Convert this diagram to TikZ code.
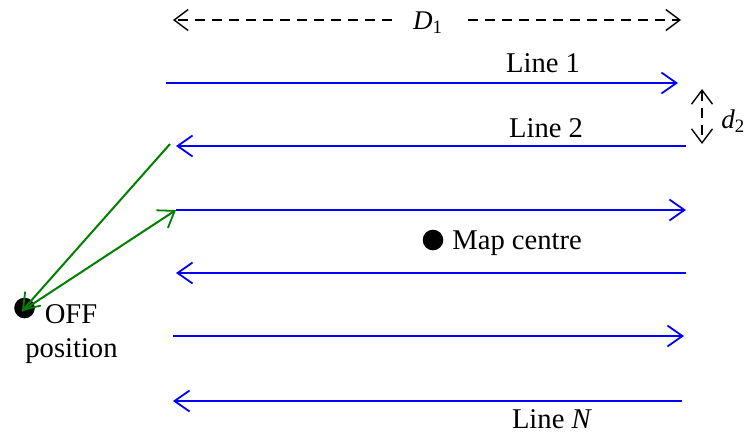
\documentclass[tikz,border=0pt]{standalone}
\usepackage{fontspec}
\setmainfont{Liberation Serif}
\usetikzlibrary{arrows.meta}
\begin{document}
\begin{tikzpicture}[x=0.5pt,y=-0.5pt,
  font=\fontsize{14.3}{16}\selectfont,
  tip/.tip={Straight Barb[length=7.5pt,width=10.5pt,line width=0.9pt]},
  dtip/.tip={Straight Barb[length=7pt,width=10.5pt,line width=0.7pt]},
  track/.style={draw={rgb,255:red,0;green,0;blue,255},line width=1pt,-tip},
  transit/.style={draw={rgb,255:red,0;green,128;blue,0},line width=1pt,-tip},
  measure/.style={draw=black,line width=0.7pt,dash pattern=on 5pt off 3.5pt},
  lbl/.style={inner sep=0pt},
  sym/.style={inner sep=0pt,font=\fontsize{13.5}{15}\selectfont},
  spot/.style={circle,fill=black,inner sep=0pt,minimum size=10.3pt}]
\useasboundingbox (0,0) rectangle (744,436);

% swath width D1
\coordinate (dl) at (173,20);
\coordinate (dr) at (681,20);
\coordinate (dgl) at (392,20);
\coordinate (dgr) at (468,20);
\draw[measure,-dtip] (dgl) -- (dl);
\draw[measure,-dtip] (dgr) -- (dr);
\node[sym,anchor=base] (dtext) at (428,29) {\textit{D}\textsubscript{1}};

% survey lines
\coordinate (l1a) at (166,83);  \coordinate (l1b) at (678,83);
\coordinate (l2a) at (686,146); \coordinate (l2b) at (176,146);
\coordinate (l3a) at (176,210); \coordinate (l3b) at (686,210);
\coordinate (l4a) at (686,273); \coordinate (l4b) at (176,273);
\coordinate (l5a) at (173,336); \coordinate (l5b) at (684,336);
\coordinate (l6a) at (682,401); \coordinate (l6b) at (173,401);
\draw[track] (l1a) -- (l1b);
\draw[track] (l2a) -- (l2b);
\draw[track] (l3a) -- (l3b);
\draw[track] (l4a) -- (l4b);
\draw[track] (l5a) -- (l5b);
\draw[track] (l6a) -- (l6b);
\node[lbl,anchor=base] (t1) at (543,72) {Line 1};
\node[lbl,anchor=base] (t2) at (546,137) {Line 2};
\node[lbl,anchor=base] (tn) at (552,428) {Line \textit{N}};

% line spacing d2
\coordinate (da) at (702,89);
\coordinate (db) at (702,144);
\draw[measure,dtip-dtip] (da) -- (db);
\node[sym,anchor=base west] (d2) at (721,128) {\textit{d}\textsubscript{2}};

% map centre
\node[spot] (mc) at (433,240) {};
\node[lbl,anchor=base west] (mct) at (452,249) {Map centre};

% off position
\node[spot] (off) at (24.5,308) {};
\node[lbl,anchor=base] (offt) at (71,323) {OFF};
\node[lbl,anchor=base] (post) at (71.5,357) {position};
\coordinate (offc) at (22,311);
\coordinate (g1) at (170,144);
\draw[transit] (g1) -- (offc);
\draw[transit] (offc) -- (l3a);
\end{tikzpicture}
\end{document}
